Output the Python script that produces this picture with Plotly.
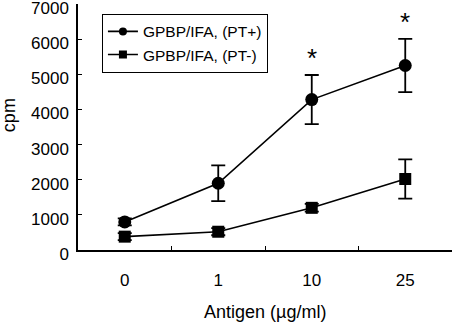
import plotly.graph_objects as go

# Antigen concentrations (µg/ml) shown as categories
doses = ["0", "1", "10", "25"]

# Proliferation (cpm), mean and SD per group
pt_plus = [800, 1900, 4280, 5250]
pt_plus_sd = [100, 510, 700, 760]
pt_minus = [380, 520, 1200, 2020]
pt_minus_sd = [100, 100, 110, 560]

# Doses marked as significant
significant = ["10", "25"]

y_ticks = [0, 1000, 2000, 3000, 4000, 5000, 6000, 7000]

FONT = "Liberation Sans, Arial, sans-serif"
LINE = dict(color="black", width=1.6)

fig = go.Figure()
series = [
    ("GPBP/IFA, (PT+)", pt_plus, pt_plus_sd, "circle", 13),
    ("GPBP/IFA, (PT-)", pt_minus, pt_minus_sd, "square", 12),
]
for name, vals, sd, sym, size in series:
    fig.add_trace(go.Scatter(
        x=doses, y=vals, name=name, showlegend=False,
        mode="lines+markers", line=LINE,
        marker=dict(symbol=sym, size=size, color="black"),
        error_y=dict(type="data", array=sd, color="black", thickness=1.8, width=7),
    ))
# legend entries with smaller symbols
for name, vals, sd, sym, size in series:
    fig.add_trace(go.Scatter(
        x=[None], y=[None], name=name, mode="lines+markers", line=LINE,
        marker=dict(symbol=sym, size=8, color="black"),
    ))

annotations = []
for d in significant:
    i = doses.index(d)
    annotations.append(dict(
        x=i, y=pt_plus[i] + pt_plus_sd[i], xref="x", yref="y",
        text="*", showarrow=False, yanchor="bottom", yshift=0,
        font=dict(family=FONT, size=26, color="black"),
    ))
annotations.append(dict(
    x=0.5, y=-0.254, xref="paper", yref="paper", text="Antigen (µg/ml)",
    showarrow=False, xanchor="center", yanchor="middle",
    font=dict(family=FONT, size=18, color="black"),
))
annotations.append(dict(
    x=-0.184, y=0.549, xref="paper", yref="paper", text="cpm",
    showarrow=False, textangle=-90, xanchor="center", yanchor="middle",
    font=dict(family=FONT, size=18, color="black"),
))

fig.update_layout(
    width=455, height=323,
    margin=dict(l=78, r=3, t=4, b=73, autoexpand=False),
    paper_bgcolor="white", plot_bgcolor="white",
    font=dict(family=FONT, size=17, color="black"),
    showlegend=True,
    legend=dict(
        x=0.064, y=0.96, xanchor="left", yanchor="top",
        bgcolor="white", bordercolor="black", borderwidth=1,
        font=dict(family=FONT, size=15.5, color="black"),
        tracegroupgap=0,
    ),
    annotations=annotations,
)
fig.update_xaxes(
    type="category", range=[-0.5, 3.5], automargin=False,
    showline=True, linecolor="black", linewidth=1.5,
    ticks="inside", tickson="boundaries", ticklen=4, tickcolor="black",
    showgrid=False, zeroline=False, ticklabelstandoff=14,
)
fig.update_yaxes(
    range=[0, 7000], tickvals=y_ticks, ticklabeloverflow="allow", automargin=False,
    showline=True, linecolor="black", linewidth=1.5,
    ticks="inside", ticklen=4, tickcolor="black",
    showgrid=False, zeroline=False, ticklabelstandoff=4, ticklabelshift=4,
)

fig.write_html("out.html")
